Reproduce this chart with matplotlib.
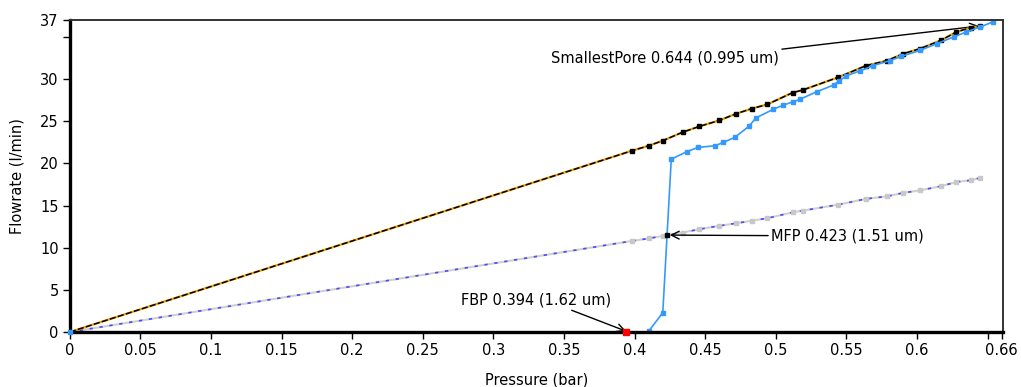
import numpy as np
import matplotlib.pyplot as plt

# dry curve (l/min vs bar)
dry_p = [0.0, 0.398, 0.410, 0.420, 0.434, 0.446, 0.460, 0.472, 0.483, 0.494, 0.512,
         0.519, 0.544, 0.564, 0.579, 0.590, 0.602, 0.617, 0.628, 0.638, 0.645]
dry_f = [0.0, 21.5, 22.1, 22.7, 23.7, 24.4, 25.1, 25.9, 26.5, 27.0, 28.4,
         28.7, 30.2, 31.6, 32.2, 33.0, 33.6, 34.6, 35.6, 36.1, 36.3]

# half dry curve
half_p = dry_p
half_f = [0.0, 10.8, 11.1, 11.4, 11.8, 12.2, 12.6, 12.9, 13.2, 13.5, 14.2,
          14.4, 15.1, 15.8, 16.1, 16.5, 16.8, 17.3, 17.8, 18.0, 18.3]

# wet curve
wet_p = [0.0, 0.410, 0.420, 0.426, 0.437, 0.445, 0.457, 0.463, 0.471, 0.481, 0.486,
         0.498, 0.505, 0.512, 0.517, 0.529, 0.541, 0.545, 0.550, 0.560, 0.569,
         0.581, 0.589, 0.602, 0.614, 0.626, 0.635, 0.645, 0.654]
wet_f = [0.0, 0.1, 2.3, 20.5, 21.4, 21.9, 22.1, 22.5, 23.1, 24.4, 25.4,
         26.4, 26.9, 27.3, 27.6, 28.5, 29.3, 29.8, 30.4, 31.0, 31.6,
         32.2, 32.7, 33.4, 34.2, 35.0, 35.6, 36.2, 36.8]

xticks = [0, 0.05, 0.1, 0.15, 0.2, 0.25, 0.3, 0.35, 0.4, 0.45, 0.5, 0.55, 0.6, 0.65, 0.66]
xlabels = ['0', '0.05', '0.1', '0.15', '0.2', '0.25', '0.3', '0.35', '0.4', '0.45',
           '0.5', '0.55', '0.6', '', '0.66']
yticks = [0, 5, 10, 15, 20, 25, 30, 35, 37]
ylabels = ['0', '5', '10', '15', '20', '25', '30', '', '37']

fbp = (0.394, 0.0)
mfp = (0.423, 11.5)
spore = (0.644, 36.3)

fig = plt.figure(figsize=(10.21, 3.87), dpi=100)
ax = fig.add_axes([0.0684, 0.142, 0.9140, 0.806])

# half dry: grey line with blue dashes
ax.plot(half_p, half_f, color='#d0d0d0', lw=1.5, zorder=2)
ax.plot(half_p, half_f, color='#4a4aff', lw=1.2, dashes=(2, 4), zorder=3)
ax.plot(half_p[1:], half_f[1:], 's', color='#c8c8c8', ms=3, zorder=3)

# dry: orange with black dashes on top
ax.plot(dry_p, dry_f, color='#f0a000', lw=1.6, zorder=4)
ax.plot(dry_p, dry_f, color='black', lw=1.1, dashes=(4, 1.5), zorder=5)
ax.plot(dry_p[1:], dry_f[1:], 's', color='black', ms=3, zorder=5)

# wet (the flat part sits under the axis line)
ax.plot(wet_p[1:], wet_f[1:], '-s', color='#3399ff', lw=1.2, ms=3.2, zorder=6)
ax.plot(wet_p[0], wet_f[0], 's', color='#3399ff', ms=3.2, zorder=11, clip_on=False)

ax.plot(*fbp, 's', color='red', ms=4.5, zorder=11, clip_on=False)
ax.plot(*mfp, 's', color='black', ms=3.5, zorder=7)

aprops = dict(arrowstyle='->', color='black', lw=1, mutation_scale=14, shrinkA=0, shrinkB=0)
ax.annotate('SmallestPore 0.644 (0.995 um)', xy=spore, xytext=(0.341, 32.5),
            fontsize=10.5, va='center', ha='left',
            arrowprops=dict(aprops, relpos=(0.96, 1.0)))
ax.annotate('MFP 0.423 (1.51 um)', xy=(mfp[0] + 0.002, mfp[1]), xytext=(0.4966, 11.35),
            fontsize=10.5, va='center', ha='left',
            arrowprops=dict(aprops, relpos=(0.0, 0.55)))
ax.annotate('FBP 0.394 (1.62 um)', xy=(fbp[0], 0.1), xytext=(0.277, 3.8),
            fontsize=10.5, va='center', ha='left',
            arrowprops=dict(aprops, relpos=(0.69, 0.0)))

ax.set_xlim(0, 0.661)
ax.set_ylim(0, 37)
ax.set_xticks(xticks)
ax.set_xticklabels(xlabels)
ax.set_yticks(yticks)
ax.set_yticklabels(ylabels)
ax.tick_params(direction='out', length=5, width=1, labelsize=10.5, pad=3)

for s in ['left', 'bottom']:
    ax.spines[s].set_linewidth(2.4)
for s in ['top', 'right']:
    ax.spines[s].set_linewidth(1.4)
    ax.spines[s].set_color('#333333')
for s in ax.spines.values():
    s.set_zorder(10)

ax.set_xlabel('Pressure (bar)', fontsize=10.5, labelpad=10)
ax.set_ylabel('Flowrate (l/min)', fontsize=10.5, labelpad=11)

fig.savefig('out.png', dpi=100)
